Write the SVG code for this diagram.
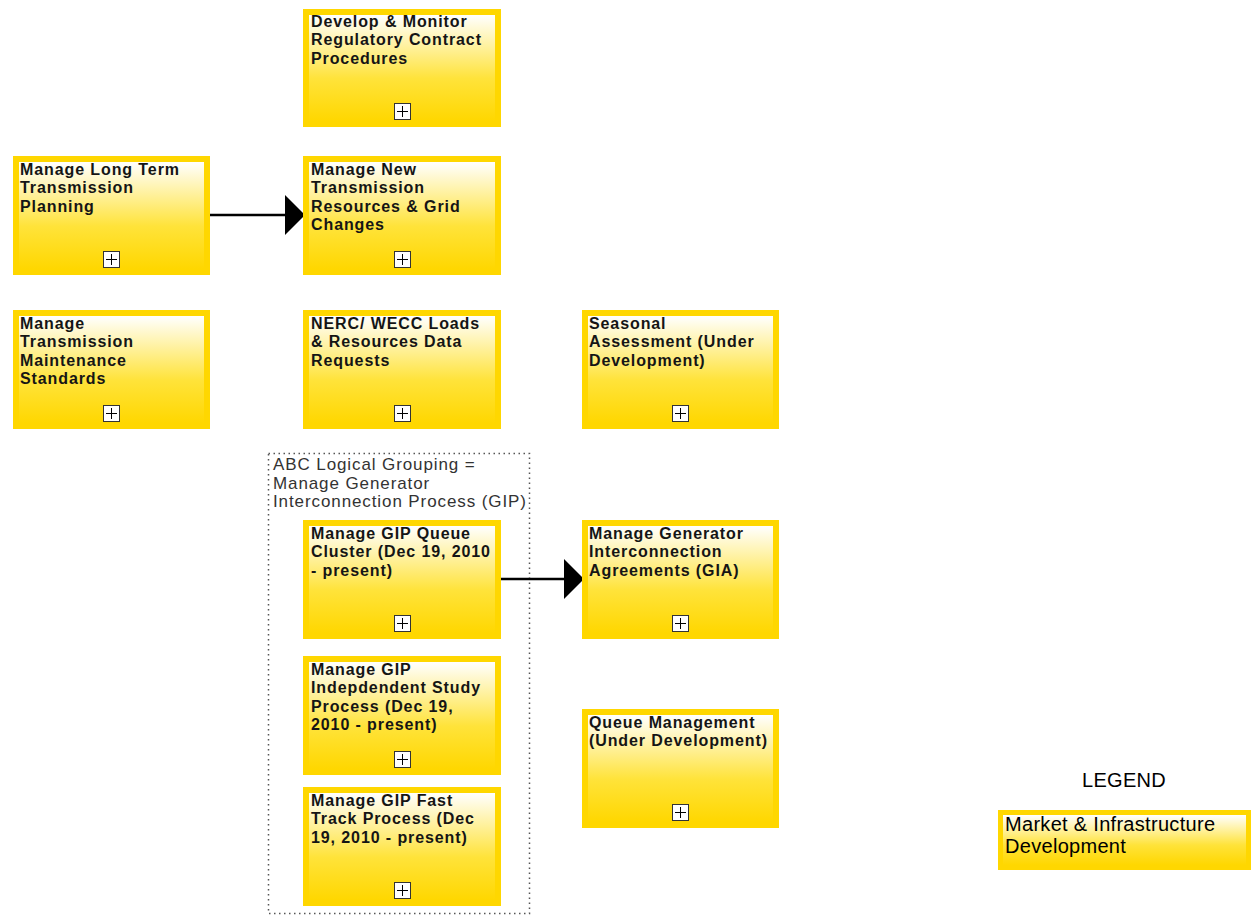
<svg xmlns="http://www.w3.org/2000/svg" width="1252" height="916" viewBox="0 0 1252 916">
<defs>
<linearGradient id="g" x1="0" y1="0" x2="0" y2="1">
<stop offset="0" stop-color="#FFFFFF"/>
<stop offset="0.6" stop-color="#FFE33A"/>
<stop offset="1" stop-color="#FFD700"/>
</linearGradient>
<marker id="ah" markerWidth="20" markerHeight="40" refX="20" refY="20" orient="auto" markerUnits="userSpaceOnUse">
<path d="M0,0 L20,20 L0,40 Z" fill="#000"/>
</marker>
</defs>
<style>
.outer{fill:#FFD700;}
.inner{fill:url(#g);}
.t{font-family:"Liberation Sans",Arial,sans-serif;font-weight:bold;font-size:16px;letter-spacing:0.9px;fill:#151515;}
.pb{fill:#fff;stroke:#333;stroke-width:1;}
.pl{stroke:#000;stroke-width:1;}
.conn{stroke:#000;stroke-width:2.5;fill:none;}
.lbl{font-family:"Liberation Sans",Arial,sans-serif;font-size:17px;letter-spacing:0.9px;fill:#333;}
.leg{font-family:"Liberation Sans",Arial,sans-serif;font-size:20px;letter-spacing:0.3px;fill:#000;}
</style>
<rect width="1252" height="916" fill="#fff"/>

<g id="grouping">
<rect x="268.5" y="453.5" width="261" height="460" fill="none" stroke="#555" stroke-width="1.5" stroke-dasharray="1.5,3.5"/>
<text class="lbl"><tspan x="273" y="470">ABC Logical Grouping =</tspan><tspan x="273" y="489">Manage Generator</tspan><tspan x="273" y="507">Interconnection Process (GIP)</tspan></text>
</g>

<g id="connectors">
<line class="conn" x1="209" y1="215" x2="305" y2="215" marker-end="url(#ah)"/>
<line class="conn" x1="499" y1="579" x2="584" y2="579" marker-end="url(#ah)"/>
</g>

<g id="n-develop" transform="translate(303,9)">
<rect class="outer" width="198" height="118"/><rect class="inner" x="6" y="6" width="186" height="106"/>
<text class="t"><tspan x="8" y="18">Develop &amp; Monitor</tspan><tspan x="8" y="36">Regulatory Contract</tspan><tspan x="8" y="55">Procedures</tspan></text>
<rect class="pb" x="91.5" y="94.5" width="16" height="16"/><path class="pl" d="M94,102.5 H105 M99.5,97 V108"/>
</g>

<g id="n-longterm" transform="translate(13,156)">
<rect class="outer" width="197" height="119"/><rect class="inner" x="6" y="6" width="185" height="107"/>
<text class="t"><tspan x="7" y="19">Manage Long Term</tspan><tspan x="7" y="37">Transmission</tspan><tspan x="7" y="56">Planning</tspan></text>
<rect class="pb" x="90.5" y="95.5" width="16" height="16"/><path class="pl" d="M93,103.5 H104 M98.5,98 V109"/>
</g>

<g id="n-newtrans" transform="translate(303,156)">
<rect class="outer" width="198" height="119"/><rect class="inner" x="6" y="6" width="186" height="107"/>
<text class="t"><tspan x="8" y="19">Manage New</tspan><tspan x="8" y="37">Transmission</tspan><tspan x="8" y="56">Resources &amp; Grid</tspan><tspan x="8" y="74">Changes</tspan></text>
<rect class="pb" x="91.5" y="95.5" width="16" height="16"/><path class="pl" d="M94,103.5 H105 M99.5,98 V109"/>
</g>

<g id="n-maint" transform="translate(13,310)">
<rect class="outer" width="197" height="119"/><rect class="inner" x="6" y="6" width="185" height="107"/>
<text class="t"><tspan x="7" y="19">Manage</tspan><tspan x="7" y="37">Transmission</tspan><tspan x="7" y="56">Maintenance</tspan><tspan x="7" y="74">Standards</tspan></text>
<rect class="pb" x="90.5" y="95.5" width="16" height="16"/><path class="pl" d="M93,103.5 H104 M98.5,98 V109"/>
</g>

<g id="n-nerc" transform="translate(303,310)">
<rect class="outer" width="198" height="119"/><rect class="inner" x="6" y="6" width="186" height="107"/>
<text class="t"><tspan x="8" y="19">NERC/ WECC Loads</tspan><tspan x="8" y="37">&amp; Resources Data</tspan><tspan x="8" y="56">Requests</tspan></text>
<rect class="pb" x="91.5" y="95.5" width="16" height="16"/><path class="pl" d="M94,103.5 H105 M99.5,98 V109"/>
</g>

<g id="n-seasonal" transform="translate(582,310)">
<rect class="outer" width="197" height="119"/><rect class="inner" x="6" y="6" width="185" height="107"/>
<text class="t"><tspan x="7" y="19">Seasonal</tspan><tspan x="7" y="37">Assessment (Under</tspan><tspan x="7" y="56">Development)</tspan></text>
<rect class="pb" x="90.5" y="95.5" width="16" height="16"/><path class="pl" d="M93,103.5 H104 M98.5,98 V109"/>
</g>

<g id="n-gipqueue" transform="translate(303,520)">
<rect class="outer" width="198" height="119"/><rect class="inner" x="6" y="6" width="186" height="107"/>
<text class="t"><tspan x="8" y="19">Manage GIP Queue</tspan><tspan x="8" y="37">Cluster (Dec 19, 2010</tspan><tspan x="8" y="56">- present)</tspan></text>
<rect class="pb" x="91.5" y="95.5" width="16" height="16"/><path class="pl" d="M94,103.5 H105 M99.5,98 V109"/>
</g>

<g id="n-gia" transform="translate(582,520)">
<rect class="outer" width="197" height="119"/><rect class="inner" x="6" y="6" width="185" height="107"/>
<text class="t"><tspan x="7" y="19">Manage Generator</tspan><tspan x="7" y="37">Interconnection</tspan><tspan x="7" y="56">Agreements (GIA)</tspan></text>
<rect class="pb" x="90.5" y="95.5" width="16" height="16"/><path class="pl" d="M93,103.5 H104 M98.5,98 V109"/>
</g>

<g id="n-gipindep" transform="translate(303,656)">
<rect class="outer" width="198" height="119"/><rect class="inner" x="6" y="6" width="186" height="107"/>
<text class="t"><tspan x="8" y="19">Manage GIP</tspan><tspan x="8" y="37">Indepdendent Study</tspan><tspan x="8" y="56">Process (Dec 19,</tspan><tspan x="8" y="74">2010 - present)</tspan></text>
<rect class="pb" x="91.5" y="95.5" width="16" height="16"/><path class="pl" d="M94,103.5 H105 M99.5,98 V109"/>
</g>

<g id="n-queuemgmt" transform="translate(582,709)">
<rect class="outer" width="197" height="119"/><rect class="inner" x="6" y="6" width="185" height="107"/>
<text class="t"><tspan x="7" y="19">Queue Management</tspan><tspan x="7" y="37">(Under Development)</tspan></text>
<rect class="pb" x="90.5" y="95.5" width="16" height="16"/><path class="pl" d="M93,103.5 H104 M98.5,98 V109"/>
</g>

<g id="n-giplast" transform="translate(303,787)">
<rect class="outer" width="198" height="119"/><rect class="inner" x="6" y="6" width="186" height="107"/>
<text class="t"><tspan x="8" y="19">Manage GIP Fast</tspan><tspan x="8" y="37">Track Process (Dec</tspan><tspan x="8" y="56">19, 2010 - present)</tspan></text>
<rect class="pb" x="91.5" y="95.5" width="16" height="16"/><path class="pl" d="M94,103.5 H105 M99.5,98 V109"/>
</g>

<g id="legend">
<text class="leg" x="1124" y="787" text-anchor="middle">LEGEND</text>
<rect class="outer" x="998" y="810" width="253" height="60"/><rect class="inner" x="1003" y="815" width="243" height="50"/>
<text class="leg"><tspan x="1005" y="831">Market &amp; Infrastructure</tspan><tspan x="1005" y="853">Development</tspan></text>
</g>
</svg>
